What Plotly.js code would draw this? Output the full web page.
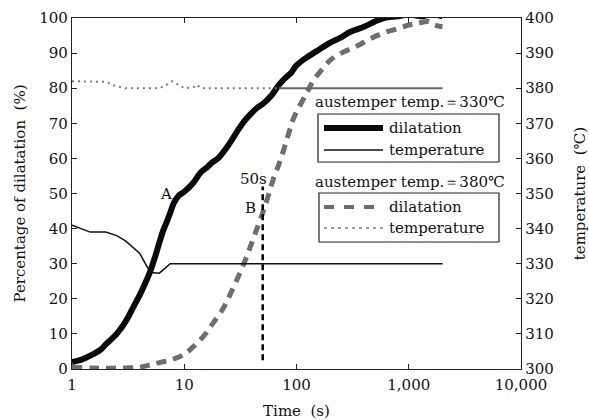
<!DOCTYPE html>
<html><head><meta charset="utf-8">
<script src="https://cdn.plot.ly/plotly-3.0.1.min.js"></script>
<style>html,body{margin:0;padding:0;background:#fff}#chart{width:589px;height:420px}</style>
</head><body><div id="chart"></div>
<script>
// ---- data ----
const time330 = [1,1.2,1.5,1.8,2,2.5,3,3.5,4,4.5,5,5.5,6,6.5,7,7.5,8,8.5,9,10,12,14,16,18,20,25,30,35,40,45,50,60,70,80,90,100,120,150,200,250,300,400,500,600,800,1000,1300,1600,2000];
const dil330  = [2,2.6,4,5.5,7,10,13.5,17.5,21,24.5,28,32,36,39.5,42,44.5,47,48.5,49.5,50.5,53,56,57.5,59,60,64,68,71,73,74.5,75.5,78,81,83,84.5,86.5,88.5,90.5,93,94.5,96,97.5,99,100,100.5,101,100.5,101,100.5];
const time380 = [1,1.5,2,3,4,5,6,8,10,12,15,18,22,25,30,35,40,45,50,55,62,70,77,85,93,107,125,140,170,200,250,345,450,590,800,1000,1200,1500,1700,2000];
const dil380  = [0.5,0.3,0.2,0.3,0.5,1.2,1.8,2.8,4.2,6.3,9.5,13,17,20.5,26,31,36,40.5,44.5,48.5,54,58.5,62.5,67,71,75,79,82,85.5,88,90,92,94,95.7,97,98,98.5,99,98,97.5];
const tempTime330 = [1,1.2,1.45,2,2.5,3,3.5,4,4.5,5,6,7.5,2000];
const temp330     = [341,340,339,339,338,336.5,334.5,333,330,327.5,327.3,330,330];
const tempTime380 = [1,1.5,2,2.5,3,6,7,7.8,9,10,12,13,14,70];
const temp380     = [382,382,381.8,380.5,380,380,381,382,380.8,380,380.2,381,380,380];
const tempTime380b = [70,2000];
const temp380b     = [380,380];
const markTime = [50,50];
const markPct  = [2.5,52];
const xTickVals = [1,10,100,1000,10000];
const xTickText = ['1','10','100','1,000','10,000'];

const F = 'DejaVu Serif';
const FS = 15;
const traces = [
  {x: tempTime380, y: temp380, yaxis:'y2', mode:'lines', line:{color:'#7a7a7a', width:2, dash:'2px,4px'}},
  {x: tempTime380b, y: temp380b, yaxis:'y2', mode:'lines', line:{color:'#666', width:2}},
  {x: tempTime330, y: temp330, yaxis:'y2', mode:'lines', line:{color:'#111', width:1.5}},
  {x: time380, y: dil380, mode:'lines', line:{color:'#6e6e6e', width:5, dash:'10px,7px', shape:'spline'}},
  {x: time330, y: dil330, mode:'lines', line:{color:'#0a0a0a', width:6, shape:'spline'}},
  {x: markTime, y: markPct, mode:'lines', line:{color:'#000', width:2.5, dash:'6px,4px'}},
];
const px = v => (v-72)/449, py = v => (369-v)/351;
const shapes = [
  {type:'rect', xref:'paper', yref:'paper', x0:px(318), x1:px(499), y0:py(162), y1:py(114), line:{color:'#222', width:1.2}},
  {type:'rect', xref:'paper', yref:'paper', x0:px(319), x1:px(499), y0:py(242), y1:py(193), line:{color:'#222', width:1.2}},
  {type:'line', xref:'paper', yref:'paper', x0:px(324), x1:px(383), y0:py(128), y1:py(128), line:{color:'#0a0a0a', width:6}},
  {type:'line', xref:'paper', yref:'paper', x0:px(324), x1:px(383), y0:py(150), y1:py(150), line:{color:'#111', width:1.5}},
  {type:'line', xref:'paper', yref:'paper', x0:px(324), x1:px(383), y0:py(207), y1:py(207), line:{color:'#6e6e6e', width:4, dash:'10px,10px'}},
  {type:'line', xref:'paper', yref:'paper', x0:px(324), x1:px(383), y0:py(228), y1:py(228), line:{color:'#7a7a7a', width:1.5, dash:'3px,4px'}},
];
const ann = (t,x,y,xa) => ({text:t, xref:'paper', yref:'paper', x:px(x), y:py(y), xanchor:xa||'left', yanchor:'middle', showarrow:false, font:{family:F, size:FS, color:'#111'}});
const annotations = [
  ann('austemper temp.＝330℃', 313, 102),
  ann('dilatation', 387, 128),
  ann('temperature', 387, 150),
  ann('austemper temp.＝380℃', 313, 182),
  ann('dilatation', 387, 207),
  ann('temperature', 387, 228),
  ann('A', 166, 194, 'center'),
  ann('50s', 253, 179, 'center'),
  ann('B', 250, 208, 'center'),
];
const layout = {
  width:589, height:420, showlegend:false,
  margin:{l:72, r:68, t:18, b:51},
  paper_bgcolor:'#fff', plot_bgcolor:'#fff',
  font:{family:F, size:FS, color:'#111'},
  xaxis:{type:'log', range:[0,4], tickvals:xTickVals, ticktext:xTickText, ticks:'inside', ticklen:5, tickcolor:'#222',
    showline:true, linecolor:'#222', linewidth:1.2, mirror:'ticks', showgrid:false, zeroline:false, ticklabelstandoff:2,
    title:{text:'Time\u00a0\u00a0(s)', font:{family:F, size:FS}, standoff:14}, tickfont:{family:F, size:FS}},
  yaxis:{range:[0,100], dtick:10, ticks:'inside', ticklen:5, tickcolor:'#222', showline:true, linecolor:'#222', linewidth:1.2,
    showgrid:false, zeroline:false, title:{text:'Percentage of dilatation\u00a0\u00a0(%)', font:{family:F, size:FS}, standoff:10}, tickfont:{family:F, size:FS}},
  yaxis2:{overlaying:'y', side:'right', range:[300,400], dtick:10, ticks:'inside', ticklen:5, tickcolor:'#222', showline:true, linecolor:'#222', linewidth:1.2,
    showgrid:false, zeroline:false, title:{text:'temperature\u00a0\u00a0(℃)', font:{family:F, size:FS}, standoff:22}, tickfont:{family:F, size:FS}},
  shapes, annotations
};
Plotly.newPlot('chart', traces, layout, {staticPlot:true});
</script></body></html>
